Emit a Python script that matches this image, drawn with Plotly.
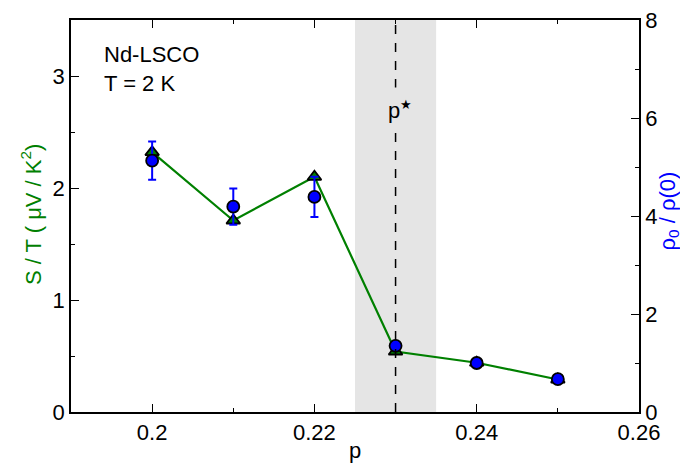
import plotly.graph_objects as go

p = [0.20, 0.21, 0.22, 0.23, 0.24, 0.25]
s_over_t = [2.32, 1.71, 2.10, 0.54, 0.44, 0.29]
rho_ratio = [5.13, 4.19, 4.39, 1.35, 1.00, 0.67]
rho_err = [0.39, 0.37, 0.41, 0.05, 0.04, 0.03]

x_ticks = [0.2, 0.22, 0.24, 0.26]
x_ticktext = ["0.2", "0.22", "0.24", "0.26"]
y_ticks = [0, 1, 2, 3]
y2_ticks = [0, 2, 4, 6, 8]
p_star = 0.23
band = [0.225, 0.235]

FONT = "Liberation Sans, Arial, sans-serif"
GREEN = "#008000"
BLUE = "#0000ff"
FS = 22

fig = go.Figure()

fig.add_trace(go.Scatter(
    x=p, y=rho_ratio, yaxis="y2", mode="markers",
    marker=dict(symbol="circle", size=12, color=BLUE, line=dict(color="black", width=1.8)),
    error_y=dict(type="data", array=rho_err, color=BLUE, thickness=2, width=4),
    showlegend=False,
))
fig.add_trace(go.Scatter(
    x=p, y=s_over_t, mode="lines+markers",
    line=dict(color=GREEN, width=2.2),
    marker=dict(symbol="triangle-up", size=12, color=GREEN, line=dict(color="black", width=1.8)),
    showlegend=False,
))

fig.add_shape(type="rect", xref="x", yref="paper", x0=band[0], x1=band[1], y0=0, y1=1,
              fillcolor="#e5e5e5", line=dict(width=0), layer="below")
fig.add_shape(type="line", xref="x", yref="paper", x0=p_star, x1=p_star, y0=0, y1=1,
              line=dict(color="black", width=1.5, dash="dash"), layer="above")

fig.add_annotation(x=p_star, y=2.70, xref="x", yref="y",
                   text="p<sup><span style='font-size:13px'>★</span></sup>", showarrow=False,
                   font=dict(family=FONT, size=FS, color="black"), bgcolor="#e5e5e5",
                   borderpad=9, xshift=4)
fig.add_annotation(x=0.0546, y=0.95, xref="paper", yref="paper", xanchor="left", yanchor="top",
                   text="Nd-LSCO<br>T = 2 K", showarrow=False, align="left",
                   font=dict(family=FONT, size=FS, color="black"))
fig.add_annotation(x=-0.070, y=0.503, xref="paper", yref="paper", xanchor="center", yanchor="middle",
                   textangle=-90, text="S / T ( μV / K<sup>2</sup>)", showarrow=False,
                   font=dict(family=FONT, size=FS, color=GREEN))
fig.add_annotation(x=1.052, y=0.513, xref="paper", yref="paper", xanchor="center", yanchor="middle",
                   textangle=-90, text="ρ<sub>0</sub> / ρ(0)", showarrow=False,
                   font=dict(family=FONT, size=FS, color=BLUE))
fig.add_annotation(x=0.5, y=-0.062, xref="paper", yref="paper", xanchor="center", yanchor="top",
                   text="p", showarrow=False,
                   font=dict(family=FONT, size=FS, color="black"))

axis_common = dict(showgrid=False, zeroline=False, showline=True, linecolor="black", linewidth=1.5,
                   ticks="inside", ticklen=8, tickwidth=1.2, tickcolor="black", automargin=False,
                   ticklabeloverflow="allow",
                   tickfont=dict(family=FONT, size=FS, color="black"))
minor_common = dict(ticks="inside", ticklen=4, tickcolor="black", tickwidth=1.2)

# page body has an 8px default margin, so the figure is shrunk by 8px and the margins adjusted
fig.update_layout(
    width=680, height=460,
    margin=dict(l=63, r=49, t=12, b=56, autoexpand=False),
    paper_bgcolor="white", plot_bgcolor="white",
    xaxis=dict(range=[0.19, 0.26], tickvals=x_ticks, ticktext=x_ticktext,
               mirror="ticks", minor=dict(tickvals=[0.21, 0.23, 0.25], **minor_common),
               **axis_common),
    yaxis=dict(range=[0, 3.5], tickvals=y_ticks,
               minor=dict(tickvals=[0.5, 1.5, 2.5], **minor_common),
               **axis_common),
    yaxis2=dict(range=[0, 8], tickvals=y2_ticks, overlaying="y", side="right",
                minor=dict(tickvals=[1, 3, 5, 7], **minor_common),
                **axis_common),
)

fig.write_html("out.html")
